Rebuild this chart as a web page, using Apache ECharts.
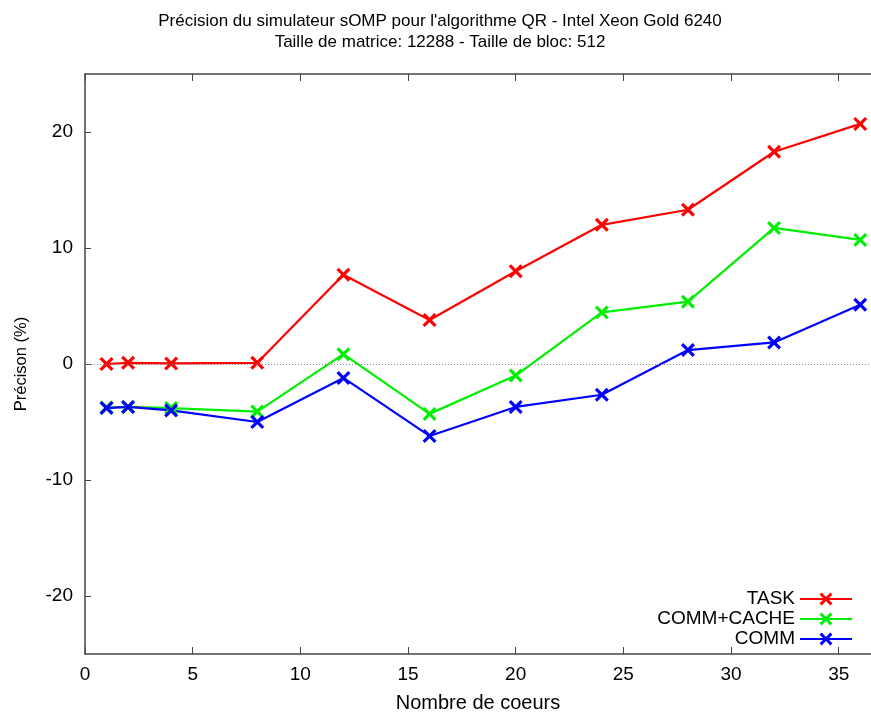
<!DOCTYPE html>
<html><head><meta charset="utf-8">
<script src="https://cdn.jsdelivr.net/npm/echarts@6/dist/echarts.min.js"></script>
<style>html,body{margin:0;padding:0;background:#fff}#c{width:871px;height:718px}</style>
</head><body><div id="c"></div>
<script>
var cores = [1, 2, 4, 8, 12, 16, 20, 24, 28, 32, 36];
var task = [0.0, 0.1, 0.05, 0.1, 7.7, 3.8, 8.0, 12.0, 13.3, 18.3, 20.7];
var commCache = [-3.75, -3.7, -3.8, -4.1, 0.85, -4.3, -1.0, 4.45, 5.37, 11.73, 10.7];
var comm = [-3.8, -3.7, -4.0, -5.0, -1.2, -6.2, -3.7, -2.65, 1.2, 1.86, 5.1];
var yTicks = [-20, -10, 0, 10, 20];
var seriesNames = ['TASK', 'COMM+CACHE', 'COMM'];
var colors = ['#ff0000', '#00ee00', '#0000ff'];

var crossPath = 'path://M0,1.6L1.6,0L5,3.4L8.4,0L10,1.6L6.6,5L10,8.4L8.4,10L5,6.6L1.6,10L0,8.4L3.4,5Z';
var font = 'Liberation Sans';

function pairs(v) { return cores.map(function (c, i) { return [c, v[i]]; }); }
function mk(name, data, color, extra) {
  var s = {
    name: name, type: 'line', data: pairs(data),
    symbol: crossPath, symbolSize: 14, showSymbol: true,
    lineStyle: { color: color, width: 2.2 },
    itemStyle: { color: color },
    emphasis: { disabled: true }, animation: false, z: 3
  };
  if (extra) Object.assign(s, extra);
  return s;
}
var chart = echarts.init(document.getElementById('c'), null, { renderer: 'canvas' });
chart.setOption({
  animation: false,
  backgroundColor: '#fff',
  title: {
    text: 'Précision du simulateur sOMP pour l\'algorithme QR - Intel Xeon Gold 6240\nTaille de matrice: 12288 - Taille de bloc: 512',
    left: 435, top: 6, textAlign: 'center',
    textStyle: { fontFamily: font, fontSize: 17, fontWeight: 'normal', color: '#000', lineHeight: 21 }
  },
  grid: { left: 85, right: 0, top: 74, bottom: 62, containLabel: false },
  legend: {
    orient: 'vertical', right: 13, top: 584, align: 'right',
    itemWidth: 52, itemHeight: 16, itemGap: 0,
    data: seriesNames,
    textStyle: { fontFamily: font, fontSize: 19, color: '#000', lineHeight: 20 }
  },
  xAxis: [{
    type: 'value', min: 0, max: 36.5, interval: 5,
    name: 'Nombre de coeurs', nameLocation: 'middle', nameGap: 39,
    nameTextStyle: { fontFamily: font, fontSize: 20, color: '#000' },
    axisLine: { onZero: false, lineStyle: { color: '#444', width: 1.5 } },
    axisTick: { inside: true, length: 7, lineStyle: { color: '#444' } },
    axisLabel: { fontFamily: font, fontSize: 19, color: '#000', margin: 11, showMaxLabel: false },
    splitLine: { show: false }
  }, {
    type: 'value', min: 0, max: 36.5, interval: 5, position: 'top',
    axisLine: { onZero: false, lineStyle: { color: '#444', width: 1.5 } },
    axisTick: { inside: true, length: 7, lineStyle: { color: '#444' } },
    axisLabel: { show: false },
    splitLine: { show: false }
  }],
  yAxis: {
    type: 'value', min: -25, max: 25,
    name: 'Précison (%)', nameLocation: 'middle', nameGap: 55, nameRotate: 90,
    nameTextStyle: { fontFamily: font, fontSize: 16.5, color: '#000' },
    axisLine: { onZero: false, lineStyle: { color: '#444', width: 1.5 } },
    axisTick: { inside: true, length: 6, customValues: yTicks, lineStyle: { color: '#444' } },
    axisLabel: { fontFamily: font, fontSize: 19, color: '#000', margin: 12, customValues: yTicks },
    splitLine: { show: false }
  },
  series: [
    mk(seriesNames[0], task, colors[0], {
      markLine: {
        silent: true, symbol: 'none', animation: false,
        label: { show: false },
        lineStyle: { color: '#888', type: [1, 2], width: 1 },
        data: [{ yAxis: 0 }]
      }
    }),
    mk(seriesNames[1], commCache, colors[1]),
    mk(seriesNames[2], comm, colors[2])
  ]
});
</script>
</body></html>
